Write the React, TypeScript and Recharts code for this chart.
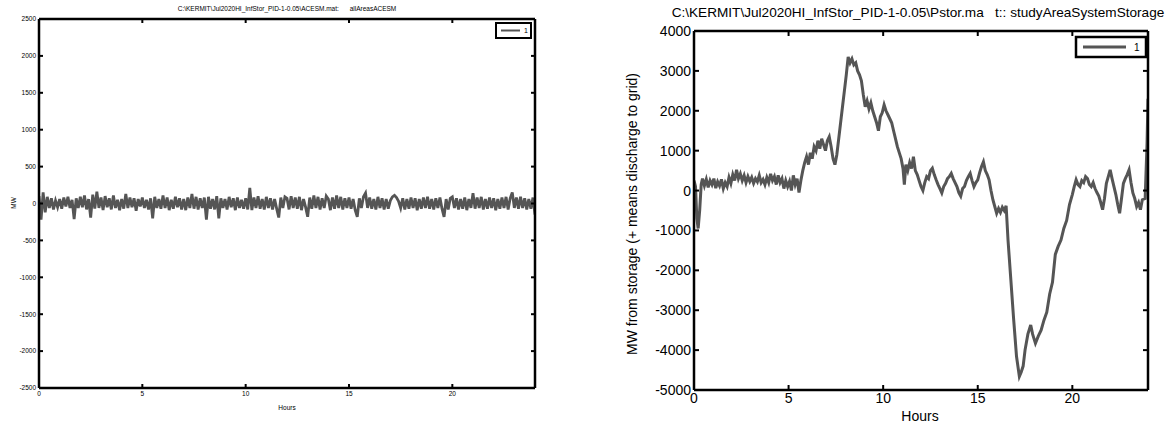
import React from "react";
import { LineChart, Line, XAxis, YAxis } from "recharts";

// ---------- Left panel: allAreasACESM (MW), sampled every 0.1 h ----------
const leftStepHours = 0.1;
const leftMW: number[] = [
  100, -220, 150, -120, 90, -60, 70, -80, 40, -50,
  60, -70, 80, -40, 90, -60, 50, -210, 70, -60,
  90, -50, 110, -80, 60, -190, 120, -70, 160, -60,
  80, -90, 100, -50, 70, -80, 110, -60, 50, -90,
  60, -70, 130, -60, 80, -50, 70, -100, 60, -40,
  80, -60, 50, -80, 70, -200, 90, -60, 60, -70,
  110, -60, 80, -90, 50, -70, 90, -50, 70, -80,
  60, -90, 80, -60, 130, -70, 90, -80, 70, -60,
  80, -220, 90, -70, 60, -80, 100, -200, 70, -60,
  60, -80, 90, -50, 70, -90, 80, -60, 50, -70,
  70, -80, 210, -90, 80, -60, 100, -70, 60, -80,
  90, -60, 70, -80, 60, -70, -190, 80, -60, 90,
  70, -80, 100, -60, 80, -70, 90, -90, 60, -50,
  -180, 80, -70, 110, -60, 90, -80, 70, -60, 100,
  60, -90, 80, -70, 110, -60, 90, -80, 70, -60,
  80, -70, 60, -90, -180, 70, -60, 90, 140, -60,
  80, -70, 60, -80, 90, -60, 70, -80, 60, -70,
  40, 90, 110, 80, 30, -60, 70, -80, 60, -70,
  80, -60, 70, -90, 60, -70, 80, -60, 90, -70,
  60, -80, 70, -60, 80, -70, -180, 60, -80, 70,
  90, -60, 70, -80, 60, -70, 80, -90, 60, -60,
  140, -70, 80, -60, 90, -80, 60, -70, 80, -60,
  70, -90, 60, -70, 80, -60, 90, -80, 70, 150,
  -60, 80, -70, 90, -60, 70, -80, 60, -70, 80,
  -150,
];

// ---------- Right panel: studyAreaSystemStorage (MW) ----------
const rightHours: number[] = [
  0, 0.08, 0.15, 0.22, 0.3, 0.38, 0.45, 0.55, 0.65, 0.75, 0.85, 0.95,
  1.05, 1.15, 1.25, 1.35, 1.45, 1.55, 1.65, 1.75, 1.85, 1.95,
  2.05, 2.15, 2.25, 2.35, 2.45, 2.55, 2.65, 2.75, 2.85, 2.95,
  3.05, 3.15, 3.25, 3.35, 3.45, 3.55, 3.65, 3.75, 3.85, 3.95,
  4.05, 4.15, 4.25, 4.35, 4.45, 4.55, 4.65, 4.75, 4.85, 4.95,
  5.05, 5.15, 5.25, 5.35, 5.45, 5.55, 5.65, 5.75, 5.85, 5.95,
  6.05, 6.15, 6.25, 6.35, 6.45, 6.55, 6.65, 6.75, 6.85, 6.95,
  7.05, 7.15, 7.25, 7.35, 7.45, 7.55, 7.65, 7.75, 7.85, 7.95,
  8.05, 8.15, 8.25, 8.35, 8.45, 8.55, 8.65, 8.75, 8.85, 8.95,
  9.05, 9.15, 9.25, 9.35, 9.45, 9.55, 9.65, 9.75, 9.85, 9.95,
  10.05, 10.15, 10.25, 10.35, 10.45, 10.55, 10.65, 10.75, 10.85, 10.95,
  11.05, 11.12, 11.2, 11.3, 11.4, 11.5, 11.6, 11.7, 11.8, 11.9,
  12.0, 12.1, 12.2, 12.3, 12.4, 12.5, 12.6, 12.7, 12.8, 12.9,
  13.0, 13.1, 13.2, 13.3, 13.4, 13.5, 13.6, 13.7, 13.8, 13.9,
  14.0, 14.1, 14.2, 14.3, 14.4, 14.5, 14.6, 14.7, 14.8, 14.9,
  15.0, 15.1, 15.2, 15.3, 15.4, 15.5, 15.6, 15.7, 15.8, 15.9,
  16.0, 16.1, 16.2, 16.3, 16.4, 16.5, 16.6, 16.75, 16.9, 17.05,
  17.2, 17.3, 17.4, 17.5, 17.65, 17.8, 17.9, 18.05, 18.2, 18.35,
  18.5, 18.65, 18.8, 18.95, 19.1, 19.25, 19.4, 19.55, 19.7, 19.85,
  20.0, 20.1, 20.2, 20.3, 20.4, 20.5, 20.6, 20.7, 20.8, 20.9,
  21.0, 21.1, 21.2, 21.3, 21.4, 21.5, 21.6, 21.7, 21.8, 21.9,
  22.0, 22.1, 22.2, 22.3, 22.4, 22.5, 22.6, 22.7, 22.8, 22.9,
  23.0, 23.1, 23.2, 23.3, 23.4, 23.5, 23.6, 23.7, 23.85, 23.95, 24.0,
];
const rightMW: number[] = [
  250, 100, -700, -950, -500, 150, 300, 120, 280, 80, 250, 150,
  300, 60, 220, 120, 280, 50, 200, 100, 330, 180,
  400, 250, 520, 300, 420, 250, 380, 200, 350, 230,
  330, 180, 300, 220, 380, 200, 280, 150, 330, 200,
  420, 250, 350, 150, 380, 200, 300, 50, 250, 100,
  230, 0, 380, 150, 300, -50, 250, 500, 700, 850,
  650, 950, 800, 1100, 1000, 1250, 1050, 1300, 1150, 1000,
  1250, 1350, 1100, 800, 650, 900, 1300, 1700, 2100, 2500,
  2900, 3350, 3200, 3300, 3150, 3200, 3000, 2900, 2750, 2400,
  2100, 2250, 2050, 2200, 2000, 1850, 1700, 1500, 1850, 1950,
  2150, 2000, 1900, 1800, 1700, 1500, 1300, 1100, 950, 800,
  550, 150, 650, 500, 700, 550, 850, 500, 400, 250,
  100, 0, 200, 350, 300, 500, 560, 400, 270, 150,
  50, -60, 100, 180, 300, 350, 430, 300, 200, 100,
  -50, -140, 50, 100, 250, 350, 430, 250, 100, 200,
  270, 450, 600, 720, 500, 400, 270, 0, -230, -400,
  -570, -450, -550, -420, -500, -380, -1240, -2240, -3240, -4160,
  -4660, -4550, -4400, -4000, -3600, -3370, -3600, -3830, -3650, -3500,
  -3250, -3050, -2600, -2300, -1600, -1400, -1240, -950, -750, -350,
  -100, 100, 270, 150, 100, 250, 200, 350, 300, 150,
  100, 200, 50, -50, -140, -300, -480, -200, 180, 350,
  520, 300, 100, -100, -350, -570, -200, 180, 300, 400,
  520, 200, -60, -200, -400, -300, -480, -230, -200, 1200, 2300,
];

const hourTicks = [0, 5, 10, 15, 20];
const leftYTicks = [-2500, -2000, -1500, -1000, -500, 0, 500, 1000, 1500, 2000, 2500];
const rightYTicks = [-5000, -4000, -3000, -2000, -1000, 0, 1000, 2000, 3000, 4000];

const leftTitle = "C:\\KERMIT\\Jul2020HI_InfStor_PID-1-0.05\\ACESM.mat:      allAreasACESM";
const rightTitle = "C:\\KERMIT\\Jul2020HI_InfStor_PID-1-0.05\\Pstor.ma   t:: studyAreaSystemStorage";
const leftYLabel = "MW";
const rightYLabel = "MW from storage (+ means discharge to grid)";
const xLabel = "Hours";
const legendName = "1";

const leftData = leftMW.map((v, i) => ({ h: Math.round(i * leftStepHours * 10) / 10, v }));
const rightData = rightHours.map((h, i) => ({ h, v: rightMW[i] }));

const FONT = "'Liberation Sans', Arial, sans-serif";
const LINE = "#555555";

const NoTickLabel = () => <g />;

type PanelProps = {
  data: { h: number; v: number }[];
  width: number;
  yWidth: number;
  marginRight: number;
  marginTop: number;
  marginBottom: number;
  yTicks: number[];
  yDomain: [number, number];
  fontSize: number;
  strokeWidth: number;
  tickLen: number;
};

function Panel(p: PanelProps) {
  const tickStyle = { fontSize: p.fontSize, fill: "#000", fontFamily: FONT };
  const axisLine = { stroke: "#000", strokeWidth: 2.5 };
  const tickLine = { stroke: "#000", strokeWidth: 2 };
  return (
    <LineChart
      width={p.width}
      height={425}
      data={p.data}
      margin={{ top: p.marginTop, right: p.marginRight, left: 0, bottom: p.marginBottom }}
    >
      <XAxis
        xAxisId="b"
        dataKey="h"
        type="number"
        domain={[0, 24]}
        ticks={hourTicks}
        orientation="bottom"
        height={30}
        axisLine={axisLine}
        tickLine={tickLine}
        tickSize={-p.tickLen}
        tickMargin={p.tickLen + 3}
        tick={tickStyle}
        allowDataOverflow
      />
      <XAxis
        xAxisId="t"
        dataKey="h"
        type="number"
        domain={[0, 24]}
        ticks={hourTicks}
        orientation="top"
        height={1}
        axisLine={axisLine}
        tickLine={tickLine}
        tickSize={-p.tickLen}
        tick={NoTickLabel}
        allowDataOverflow
      />
      <YAxis
        yAxisId="l"
        type="number"
        domain={p.yDomain}
        ticks={p.yTicks}
        orientation="left"
        width={p.yWidth}
        axisLine={axisLine}
        tickLine={tickLine}
        tickSize={-p.tickLen}
        tickMargin={p.tickLen + 3}
        tick={tickStyle}
        interval={0}
        allowDataOverflow
      />
      <YAxis
        yAxisId="r"
        type="number"
        domain={p.yDomain}
        ticks={p.yTicks}
        orientation="right"
        width={1}
        axisLine={axisLine}
        tickLine={tickLine}
        tickSize={-p.tickLen}
        tick={NoTickLabel}
        interval={0}
        allowDataOverflow
      />
      {/* invisible copy bound to the top/right axes so those frame axes render */}
      <Line
        xAxisId="t"
        yAxisId="r"
        dataKey="v"
        type="linear"
        stroke="none"
        strokeWidth={0}
        dot={false}
        activeDot={false}
        legendType="none"
        isAnimationActive={false}
      />
      <Line
        xAxisId="b"
        yAxisId="l"
        dataKey="v"
        type="linear"
        stroke={LINE}
        strokeWidth={p.strokeWidth}
        dot={false}
        isAnimationActive={false}
      />
    </LineChart>
  );
}

export default function App() {
  return (
    <div style={{ position: "absolute", left: 0, top: 0, width: 1167, height: 425, background: "#fff", fontFamily: FONT }}>
      <div style={{ position: "absolute", left: 0, top: 0 }}>
        <Panel
          data={leftData}
          width={560}
          yWidth={39}
          marginRight={24}
          marginTop={18}
          marginBottom={7}
          yTicks={leftYTicks}
          yDomain={[-2500, 2500]}
          fontSize={6.5}
          strokeWidth={2.8}
          tickLen={4}
        />
      </div>
      <div style={{ position: "absolute", left: 600, top: 0 }}>
        <Panel
          data={rightData}
          width={567}
          yWidth={94}
          marginRight={18}
          marginTop={30}
          marginBottom={5}
          yTicks={rightYTicks}
          yDomain={[-5000, 4000]}
          fontSize={14}
          strokeWidth={3}
          tickLen={5}
        />
      </div>
      <svg
        width={1167}
        height={425}
        style={{ position: "absolute", left: 0, top: 0, pointerEvents: "none" }}
        fontFamily={FONT}
      >
        {/* left texts */}
        <text x={287} y={11} fontSize={6.5} textAnchor="middle" fill="#000" xmlSpace="preserve">{leftTitle}</text>
        <text x={287} y={410} fontSize={6.5} textAnchor="middle" fill="#000">{xLabel}</text>
        <text x={0} y={0} fontSize={6.5} textAnchor="middle" fill="#000" transform="translate(16,203) rotate(-90)">{leftYLabel}</text>
        {/* left legend */}
        <rect x={496} y={23} width={35} height={15} fill="#fff" stroke="#000" strokeWidth={2} />
        <line x1={501} y1={30.5} x2={520} y2={30.5} stroke={LINE} strokeWidth={2} />
        <text x={524} y={33} fontSize={7} fill="#000">{legendName}</text>
        {/* right texts */}
        <text x={918} y={17} fontSize={13.6} textAnchor="middle" fill="#000" xmlSpace="preserve">{rightTitle}</text>
        <text x={920} y={421} fontSize={14} textAnchor="middle" fill="#000">{xLabel}</text>
        <text x={0} y={0} fontSize={14} textAnchor="middle" fill="#000" transform="translate(637,214) rotate(-90)">{rightYLabel}</text>
        {/* right legend */}
        <rect x={1076} y={37} width={70} height={20} fill="#fff" stroke="#000" strokeWidth={2.5} />
        <line x1={1083} y1={47} x2={1126} y2={47} stroke={LINE} strokeWidth={3} />
        <text x={1134} y={51} fontSize={10} fill="#000">{legendName}</text>
      </svg>
    </div>
  );
}
